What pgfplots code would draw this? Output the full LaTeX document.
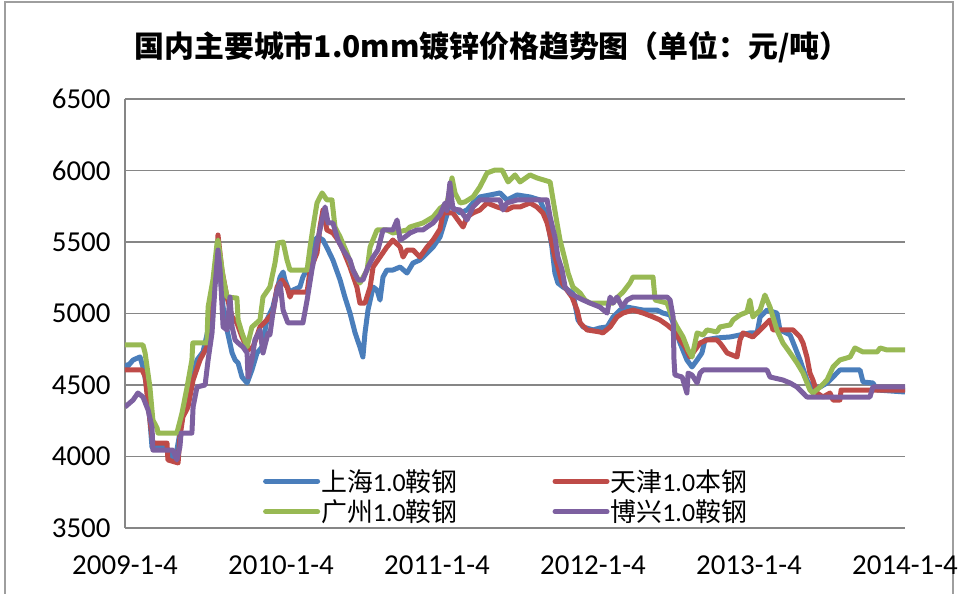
\documentclass[border=0pt]{standalone}
\usepackage{fontspec}
\setmainfont{Carlito}
\newfontfamily\cjk{Noto Sans CJK SC}
\usepackage{pgfplots}
\pgfplotsset{compat=1.18}
\definecolor{cblue}{RGB}{74,126,187}
\definecolor{cred}{RGB}{190,75,72}
\definecolor{cgreen}{RGB}{152,185,84}
\definecolor{cpurple}{RGB}{125,96,160}
\definecolor{gridc}{RGB}{134,134,134}
\begin{document}
\begin{tikzpicture}[x=1bp,y=1bp]
\path[use as bounding box] (-125,-66) rectangle (838,528);
\draw[gridc!80, line width=1.5bp] (-120,-90) rectangle (828,526);
\node[font=\cjk\bfseries\fontsize{30}{34}\selectfont] at (367,481) {国内主要城市1.0mm镀锌价格趋势图（单位：元/吨）};
\begin{axis}[
  at={(0,0)}, anchor=south west,
  scale only axis, width=780bp, height=429bp,
  xmin=0, xmax=260, ymin=3500, ymax=6500,
  xtick={0,52,104,156,208,260},
  xticklabels={2009-1-4,2010-1-4,2011-1-4,2012-1-4,2013-1-4,2014-1-4},
  ytick={3500,4000,4500,5000,5500,6000,6500},
  yticklabels={3500,4000,4500,5000,5500,6000,6500},
  axis x line*=bottom, axis y line*=left,
  axis line style={gridc, line width=1.5bp, -},
  ymajorgrids, grid style={gridc, line width=1.5bp},
  major tick length=0pt,
  tick label style={font=\fontsize{29}{33}\selectfont, text=black},
  yticklabel style={xshift=-11bp},
  xticklabel style={yshift=-24bp},
  every axis plot/.append style={line width=5bp, line join=round},
  legend columns=2,
  legend style={at={(0.173,0.146)}, anchor=north west, draw=none, fill=none,
    font=\fontsize{26}{30}\selectfont,
    nodes={inner xsep=1bp},
    row sep=3bp,
    /tikz/every even column/.append style={column sep=94bp}},
  legend image code/.code={\draw[#1, line width=5bp, line cap=round] (0bp,0bp) -- (52bp,0bp);},
]
\addplot[cblue] coordinates {(0,4650)(0.7,4626)(2.7,4675)(5,4696)(6,4626)(7.3,4486)(8.3,4255)(9,4066)(12.7,4066)(14,4045)(16.7,3976)(18.3,4164)(19.3,4304)(20.7,4395)(22.3,4535)(24,4675)(26,4731)(27.7,4885)(29.3,5185)(30.7,5444)(31,5465)(31.7,5283)(32.7,5045)(34,4885)(35.7,4724)(36.7,4675)(37.7,4654)(39,4556)(40.7,4514)(42.3,4605)(44,4724)(45.7,4766)(47.3,4955)(49.3,5045)(51.7,5255)(52.7,5290)(53.3,5234)(55,5143)(56,5164)(58.3,5185)(59.3,5255)(61.7,5353)(63.3,5514)(64.3,5535)(66,5514)(67.7,5444)(69.3,5374)(71.7,5234)(73.3,5115)(75,5003)(76.7,4864)(78.3,4766)(79.3,4696)(80,4864)(81,5024)(82.7,5185)(84,5164)(85,5094)(86,5255)(87.3,5304)(89.3,5304)(91.7,5325)(94,5283)(96,5353)(98.3,5374)(100.7,5423)(102.7,5465)(105,5535)(107.3,5690)(108.3,5794)(109.3,5740)(111.7,5703)(114,5724)(116,5773)(118.3,5815)(121.7,5829)(125,5843)(127.3,5794)(130.7,5829)(135,5815)(138.3,5794)(140.7,5675)(142.3,5465)(143.3,5283)(144.3,5213)(146,5185)(147.7,5164)(149.3,5143)(151,4955)(152.7,4906)(156,4885)(158.3,4899)(160.7,4906)(162.7,4976)(165,5024)(167.3,5045)(172.7,5024)(177.3,5024)(179.3,5003)(181.7,4990)(183.3,4906)(185,4794)(187.3,4675)(189,4626)(190.7,4675)(192.3,4724)(193.3,4815)(197.3,4829)(201.7,4836)(208.3,4864)(210.7,4864)(211.7,4976)(214,5024)(217.3,5003)(218.3,4885)(221.7,4850)(223.3,4766)(225,4675)(227.3,4535)(229.3,4465)(231.7,4486)(234,4514)(236,4556)(238.3,4605)(245,4605)(246,4521)(249.3,4514)(250.7,4465)(260,4451)};
\addlegendentry{{\cjk 上海}1.0{\cjk 鞍钢}}
\addplot[cred] coordinates {(0,4605)(5.7,4605)(6.7,4560)(8.3,4255)(9.3,4094)(14,4094)(14.3,3976)(17.7,3955)(18.3,4136)(19.3,4276)(21,4346)(22.7,4535)(25,4675)(27.3,4766)(29.3,5115)(30.7,5423)(31,5549)(32.3,5304)(34,5115)(35.7,4976)(37.3,4934)(39,4836)(41,4745)(42.7,4766)(45,4906)(47.3,4955)(49.3,5003)(50.7,5185)(52.3,5234)(54,5185)(55,5115)(55.7,5150)(60.7,5150)(61.7,5304)(64,5423)(65,5605)(66,5724)(67.3,5584)(69.3,5563)(71,5514)(72.7,5444)(75,5325)(77.3,5185)(78.3,5073)(80,5073)(81.7,5185)(82.7,5325)(85,5395)(87.3,5465)(89.3,5514)(91.7,5465)(92.7,5395)(94,5444)(96,5444)(98.3,5395)(100.7,5465)(102.7,5514)(105,5590)(106,5703)(109.3,5703)(111.7,5633)(112.7,5605)(114,5675)(116,5703)(118.3,5724)(120.7,5773)(124,5745)(127.3,5724)(129.3,5745)(131.7,5745)(135,5773)(137.3,5745)(139.3,5703)(140.7,5633)(142.3,5493)(143.3,5395)(144.3,5325)(145.7,5213)(147.3,5164)(149,5115)(150.7,5024)(151.7,4934)(154,4885)(158.3,4871)(159.3,4864)(161.7,4906)(164,4976)(166,5003)(169.3,5024)(172.7,5003)(176,4976)(178.3,4955)(180.7,4920)(182.7,4885)(184.3,4836)(186.7,4766)(188.3,4696)(190,4745)(191.7,4794)(194,4815)(197.3,4815)(198.3,4794)(199.3,4766)(200.7,4724)(204,4696)(205,4815)(206,4864)(209.3,4836)(211.7,4885)(214,4934)(215,4955)(216,4885)(222.7,4885)(225,4836)(226,4794)(227.3,4696)(228.3,4584)(229.3,4535)(230.7,4444)(232.7,4416)(235,4444)(236,4395)(238.3,4395)(238.7,4465)(260,4465)};
\addlegendentry{{\cjk 天津}1.0{\cjk 本钢}}
\addplot[cgreen] coordinates {(0,4780)(6,4780)(6.7,4724)(8.3,4486)(9.3,4255)(10.7,4199)(11,4164)(17.3,4164)(19,4304)(20.7,4486)(22.3,4675)(22.6,4794)(27.3,4794)(27.7,5045)(29.3,5234)(30.7,5493)(31,5514)(32.7,5255)(34,5115)(37.3,5108)(37.7,4955)(39,4864)(40.7,4766)(42.3,4905)(45,4955)(46,5115)(48.3,5185)(50,5353)(51,5493)(52.7,5500)(54,5374)(55,5304)(60.7,5304)(61.7,5465)(62.7,5605)(64,5773)(65.7,5843)(67.3,5794)(69,5794)(70,5605)(71.7,5535)(74,5423)(76,5304)(78.3,5213)(80.7,5304)(81.7,5465)(84,5584)(87.3,5584)(89.3,5563)(94,5584)(95,5605)(99.3,5633)(102.7,5675)(105,5735)(107.3,5770)(108.3,5870)(109,5948)(110,5843)(111.7,5773)(113.3,5780)(116,5815)(118.3,5885)(120.7,5983)(123.3,6003)(125.7,6003)(127.7,5920)(130,5969)(131.7,5920)(135,5969)(137.3,5948)(141.7,5920)(142.7,5794)(144,5633)(145,5514)(146.7,5374)(147.7,5283)(149.3,5185)(151.7,5143)(153.3,5094)(155,5073)(162.7,5073)(164,5110)(166,5150)(168.3,5213)(169.3,5255)(176,5255)(176.7,5094)(180.7,5073)(182.3,4976)(184,4906)(186,4836)(187.7,4745)(189,4696)(190.7,4864)(192.7,4850)(194,4885)(197.3,4871)(198.3,4906)(201.7,4920)(202.7,4955)(205,4990)(207.3,5010)(208.3,5094)(209.3,4976)(211.7,5024)(213.3,5129)(215,5045)(217.3,4885)(219.3,4794)(221.7,4724)(224,4654)(226,4584)(228.3,4465)(229.3,4444)(231.7,4486)(234,4535)(236,4626)(238.3,4675)(241.7,4696)(243.3,4759)(246,4731)(250.7,4731)(251.7,4759)(254,4745)(260,4745)};
\addlegendentry{{\cjk 广州}1.0{\cjk 鞍钢}}
\addplot[cpurple] coordinates {(0,4346)(2.7,4395)(4.3,4444)(6,4416)(7.7,4325)(9,4206)(9.3,4045)(16,4045)(17.3,3976)(18.3,4066)(18.7,4164)(22.3,4164)(22.7,4346)(24,4486)(26.7,4500)(27.7,4675)(29,4864)(30,5185)(31,5444)(31.7,5304)(32.3,5073)(32.7,4906)(34,4885)(35,5115)(35.7,4906)(36.7,4815)(37.7,4794)(39.3,4766)(40.7,4724)(41,4556)(42.3,4675)(43.3,4815)(45,4885)(46,4724)(47.7,4864)(48.3,4850)(49.3,5003)(50.7,5164)(51.7,5213)(52.7,5024)(54.3,4934)(59.3,4934)(60.7,5094)(62.3,5304)(64,5493)(65.7,5654)(66.7,5745)(67.7,5633)(69.3,5633)(71,5514)(72.7,5444)(75,5374)(76,5304)(77.7,5234)(79.3,5234)(81,5325)(82.7,5395)(84.3,5444)(86,5584)(89.3,5584)(90.7,5654)(91.7,5514)(93.3,5535)(95,5563)(97.3,5584)(99.3,5584)(100.7,5605)(102.7,5633)(105,5690)(106.7,5773)(107.3,5720)(108.3,5913)(109.3,5730)(111.7,5724)(114,5654)(116,5745)(118.3,5794)(125,5794)(126,5724)(127.3,5773)(130.7,5794)(140.7,5794)(141.7,5675)(143.3,5535)(144.3,5395)(145.7,5304)(146.7,5185)(148.3,5143)(150.7,5115)(152.7,5094)(155,5073)(158.3,5045)(160.7,5003)(161.7,5115)(162.7,5073)(164,5115)(165.7,5045)(167.3,5094)(169.3,5115)(180.7,5115)(181.7,5094)(182.7,4976)(183,4675)(183.3,4570)(185.7,4556)(186.7,4486)(187.3,4444)(187.7,4584)(189,4570)(190.7,4514)(191.7,4584)(192.7,4605)(214,4605)(215,4556)(219.3,4535)(221.7,4514)(224,4486)(226,4444)(227.3,4416)(248.3,4416)(249.3,4486)(260,4486)};
\addlegendentry{{\cjk 博兴}1.0{\cjk 鞍钢}}
\end{axis}
\end{tikzpicture}
\end{document}
